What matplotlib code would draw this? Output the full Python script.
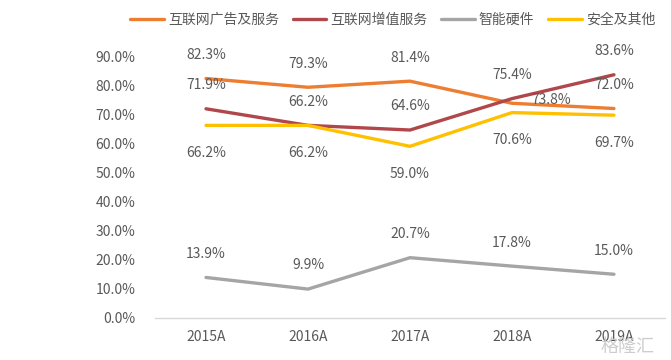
import matplotlib
matplotlib.use("Agg")
import matplotlib.pyplot as plt

plt.rcParams['font.family'] = ['Noto Sans CJK SC', 'DejaVu Sans']

years = ["2015A", "2016A", "2017A", "2018A", "2019A"]
series_names = ["互联网广告及服务", "互联网增值服务", "智能硬件", "安全及其他"]
ad_services = [82.3, 79.3, 81.4, 73.8, 72.0]
value_added = [71.9, 66.2, 64.6, 75.4, 83.6]
hardware = [13.9, 9.9, 20.7, 17.8, 15.0]
security_other = [66.2, 66.2, 59.0, 70.6, 69.7]
yticks = [0, 10, 20, 30, 40, 50, 60, 70, 80, 90]

colors = ["#ED7D31", "#B0474B", "#A5A5A5", "#FFC000"]
all_series = [ad_services, value_added, hardware, security_other]
# label offsets in points (dx, dy) per series/point
offsets = [
    [(0, 17), (0, 17), (0, 17), (28, 2), (0, 17)],
    [(0, 17), (0, 17), (0, 17), (0, 17), (0, 17)],
    [(0, 17), (0, 17), (0, 17), (0, 17), (0, 17)],
    [(0, -20), (0, -20), (0, -20), (0, -20), (0, -20)],
]

fig = plt.figure(figsize=(6.71, 3.6), dpi=100)
ax = fig.add_axes([0.231, 0.117, 0.760, 0.727])
x = list(range(len(years)))
text_color = "#595959"

lines = []
for name, vals, c in zip(series_names, all_series, colors):
    ln, = ax.plot(x, vals, color=c, lw=2.4, solid_capstyle='round', label=name)
    lines.append(ln)

for vals, offs in zip(all_series, offsets):
    for xi, v, (dx, dy) in zip(x, vals, offs):
        ax.annotate(f"{v:.1f}%", (xi, v), xytext=(dx, dy), textcoords="offset points",
                    ha="center", va="center", fontsize=10, color=text_color)

ax.set_xlim(-0.5, 4.5)
ax.set_ylim(0, 90)
ax.set_yticks(yticks)
ax.set_yticklabels([f"{t:.1f}%" for t in yticks], fontsize=10, color=text_color)
ax.set_xticks(x)
ax.set_xticklabels(years, fontsize=10, color=text_color)
for s in ["top", "right", "left"]:
    ax.spines[s].set_visible(False)
ax.spines["bottom"].set_color("#D9D9D9")
ax.spines["bottom"].set_linewidth(1)
ax.tick_params(axis="both", length=0)
ax.tick_params(axis="y", pad=14)
ax.tick_params(axis="x", pad=9)

fig.legend(handles=lines, loc="center right", bbox_to_anchor=(0.995, 0.945), ncol=4,
           frameon=False, fontsize=10, handlelength=2.4, columnspacing=1.0,
           handletextpad=0.3, labelcolor=text_color)

fig.text(0.975, 0.035, "格隆汇", ha="right", va="center", fontsize=13,
         color="#C8C8C8", alpha=0.9)

fig.savefig("out.png", dpi=100)
